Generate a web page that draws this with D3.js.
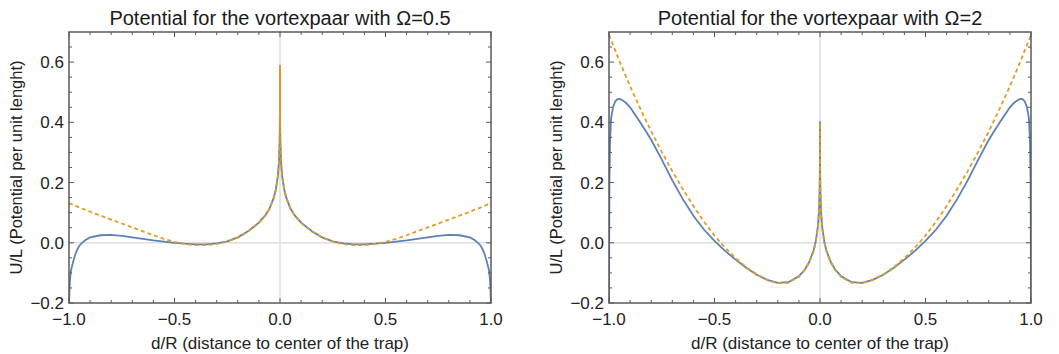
<!DOCTYPE html>
<html>
<head>
<meta charset="utf-8">
<script src="https://cdn.jsdelivr.net/npm/d3@7"></script>
<style>
  body { margin: 0; background: #fff; }
  svg { display: block; }
  text { font-family: "Liberation Sans", Arial, sans-serif; }
</style>
</head>
<body>
<div id="chart"></div>
<script>
// sampled positions d/R (shared by every curve)
const xGrid = [
  -1, -0.998, -0.995, -0.99, -0.98, -0.97, -0.96, -0.95, -0.94, -0.92, -0.9, -0.85, -0.8, -0.75,
  -0.7, -0.65, -0.6, -0.55, -0.5, -0.45, -0.4, -0.35, -0.3, -0.25, -0.2, -0.15, -0.1, -0.07,
  -0.05, -0.03, -0.02, -0.01, -0.005, -0.002, -0.001, -0.0003, -0.0001, -0.00003,
  0.00003, 0.0001, 0.0003, 0.001, 0.002, 0.005, 0.01, 0.02, 0.03, 0.05,
  0.07, 0.1, 0.15, 0.2, 0.25, 0.3, 0.35, 0.4, 0.45, 0.5, 0.55, 0.6, 0.65,
  0.7, 0.75, 0.8, 0.85, 0.9, 0.92, 0.94, 0.95, 0.96, 0.97, 0.98, 0.99, 0.995, 0.998, 1
];

// Omega = 0.5
const blueA = [
  -0.22, -0.16, -0.12, -0.09, -0.062, -0.038, -0.021, -0.009, -0.001, 0.01, 0.018, 0.025, 0.026, 0.023,
  0.018, 0.013, 0.008, 0.004, 0.0, -0.003, -0.005, -0.005, -0.002, 0.005, 0.018, 0.039, 0.067, 0.091,
  0.113, 0.149, 0.176, 0.223, 0.269, 0.331, 0.377, 0.456, 0.53, 0.587,
  0.587, 0.53, 0.456, 0.377, 0.331, 0.269, 0.223, 0.176, 0.149, 0.113,
  0.091, 0.067, 0.039, 0.018, 0.005, -0.002, -0.005, -0.005, -0.003, 0.0, 0.004, 0.008, 0.013,
  0.018, 0.023, 0.026, 0.025, 0.018, 0.01, -0.001, -0.009, -0.021, -0.038, -0.062, -0.09, -0.12, -0.16, -0.22
];
const orangeA = [
  0.132, 0.131, 0.130, 0.129, 0.126, 0.123, 0.120, 0.117, 0.114, 0.109, 0.103, 0.090, 0.077, 0.064,
  0.051, 0.038, 0.025, 0.013, 0.003, -0.004, -0.008, -0.008, -0.004, 0.004, 0.017, 0.038, 0.066, 0.09,
  0.112, 0.148, 0.175, 0.222, 0.268, 0.33, 0.376, 0.455, 0.528, 0.585,
  0.585, 0.528, 0.455, 0.376, 0.33, 0.268, 0.222, 0.175, 0.148, 0.112,
  0.09, 0.066, 0.038, 0.017, 0.004, -0.004, -0.008, -0.008, -0.004, 0.003, 0.013, 0.025, 0.038,
  0.051, 0.064, 0.077, 0.090, 0.103, 0.109, 0.114, 0.117, 0.120, 0.123, 0.126, 0.129, 0.130, 0.131, 0.132
];

// Omega = 2
const blueB = [
  -0.22, 0.2, 0.34, 0.415, 0.453, 0.47, 0.477, 0.478, 0.475, 0.465, 0.45, 0.398, 0.342, 0.276,
  0.207, 0.145, 0.09, 0.044, 0.006, -0.027, -0.056, -0.083, -0.106, -0.123, -0.133, -0.131, -0.111, -0.087,
  -0.062, -0.025, 0.005, 0.054, 0.102, 0.167, 0.216, 0.3, 0.37, 0.4,
  0.4, 0.37, 0.3, 0.216, 0.167, 0.102, 0.054, 0.005, -0.025, -0.062,
  -0.087, -0.111, -0.131, -0.133, -0.123, -0.106, -0.083, -0.056, -0.027, 0.006, 0.044, 0.09, 0.145,
  0.207, 0.276, 0.342, 0.398, 0.45, 0.465, 0.475, 0.478, 0.477, 0.47, 0.453, 0.415, 0.34, 0.2, -0.22
];
const orangeB = [
  0.69, 0.686, 0.681, 0.672, 0.655, 0.638, 0.62, 0.603, 0.586, 0.553, 0.52, 0.443, 0.37, 0.302,
  0.238, 0.178, 0.122, 0.07, 0.024, -0.016, -0.051, -0.081, -0.105, -0.123, -0.134, -0.133, -0.113, -0.089,
  -0.064, -0.027, 0.003, 0.052, 0.1, 0.165, 0.214, 0.298, 0.368, 0.398,
  0.398, 0.368, 0.298, 0.214, 0.165, 0.1, 0.052, 0.003, -0.027, -0.064,
  -0.089, -0.113, -0.133, -0.134, -0.123, -0.105, -0.081, -0.051, -0.016, 0.024, 0.07, 0.122, 0.178,
  0.238, 0.302, 0.37, 0.443, 0.52, 0.553, 0.586, 0.603, 0.62, 0.638, 0.655, 0.672, 0.681, 0.686, 0.69
];

// ticks
const xMajor = [-1, -0.5, 0, 0.5, 1];
const xTickLabels = ["\u22121.0", "\u22120.5", "0.0", "0.5", "1.0"];
const xMinor = [-0.9, -0.8, -0.7, -0.6, -0.4, -0.3, -0.2, -0.1, 0.1, 0.2, 0.3, 0.4, 0.6, 0.7, 0.8, 0.9];
const yMajor = [-0.2, 0, 0.2, 0.4, 0.6];
const yTickLabels = ["\u22120.2", "0.0", "0.2", "0.4", "0.6"];
const yMinor = [-0.15, -0.1, -0.05, 0.05, 0.1, 0.15, 0.25, 0.3, 0.35, 0.45, 0.5, 0.55, 0.65];

const titles = ["Potential for the vortexpaar with \u03A9=0.5", "Potential for the vortexpaar with \u03A9=2"];
const xTitle = "d/R (distance to center of the trap)";
const yTitle = "U/L (Potential per unit lenght)";

const W = 1059, H = 354;
const svg = d3.select("#chart").append("svg")
    .attr("width", W)
    .attr("height", H);

const panels = [
  { left: 69, blue: blueA, orange: orangeA, title: titles[0] },
  { left: 609, blue: blueB, orange: orangeB, title: titles[1] }
];
const pw = 422, plotTop = 32, plotBottom = 303;

panels.forEach(function(p, i) {
  const x = d3.scaleLinear().domain([-1, 1]).range([p.left, p.left + pw]);
  const y = d3.scaleLinear().domain([-0.2, 0.7]).range([plotBottom, plotTop]);
  const g = svg.append("g");

  g.append("clipPath").attr("id", "clip" + i)
    .append("rect")
    .attr("x", p.left).attr("y", plotTop)
    .attr("width", pw).attr("height", plotBottom - plotTop);

  // axes through the origin
  g.append("line")
    .attr("x1", x(-1)).attr("x2", x(1))
    .attr("y1", y(0)).attr("y2", y(0))
    .attr("stroke", "#dedede").attr("stroke-width", 1.5);
  g.append("line")
    .attr("x1", x(0)).attr("x2", x(0))
    .attr("y1", y(-0.2)).attr("y2", y(0.7))
    .attr("stroke", "#dedede").attr("stroke-width", 1.5);

  const line = d3.line()
    .x(function(d) { return x(d[0]); })
    .y(function(d) { return y(d[1]); });

  const curves = g.append("g").attr("clip-path", "url(#clip" + i + ")");
  curves.append("path")
    .datum(xGrid.map(function(v, k) { return [v, p.blue[k]]; }))
    .attr("d", line)
    .attr("fill", "none")
    .attr("stroke", "#5E81B5")
    .attr("stroke-width", 1.8);
  curves.append("path")
    .datum(xGrid.map(function(v, k) { return [v, p.orange[k]]; }))
    .attr("d", line)
    .attr("fill", "none")
    .attr("stroke", "#E19C24")
    .attr("stroke-width", 1.8)
    .attr("stroke-dasharray", "4,3");

  // frame
  g.append("rect")
    .attr("x", p.left).attr("y", plotTop)
    .attr("width", pw).attr("height", plotBottom - plotTop)
    .attr("fill", "none")
    .attr("stroke", "#5a5a5a")
    .attr("stroke-width", 1.5);

  const tk = g.append("g").attr("stroke", "#5a5a5a").attr("stroke-width", 1);
  function xt(vals, len) {
    vals.forEach(function(v) {
      tk.append("line").attr("x1", x(v)).attr("x2", x(v)).attr("y1", plotBottom).attr("y2", plotBottom - len);
      tk.append("line").attr("x1", x(v)).attr("x2", x(v)).attr("y1", plotTop).attr("y2", plotTop + len);
    });
  }
  function yt(vals, len) {
    vals.forEach(function(v) {
      tk.append("line").attr("x1", p.left).attr("x2", p.left + len).attr("y1", y(v)).attr("y2", y(v));
      tk.append("line").attr("x1", p.left + pw).attr("x2", p.left + pw - len).attr("y1", y(v)).attr("y2", y(v));
    });
  }
  xt(xMajor, 5); xt(xMinor, 3);
  yt(yMajor, 5); yt(yMinor, 3);

  // tick labels
  g.selectAll(".xl").data(xMajor).enter().append("text")
    .attr("x", function(d) { return x(d); })
    .attr("y", 325)
    .attr("text-anchor", "middle")
    .style("font-size", "17px")
    .attr("fill", "#222")
    .text(function(d, k) { return xTickLabels[k]; });
  g.selectAll(".yl").data(yMajor).enter().append("text")
    .attr("x", p.left - 5)
    .attr("y", function(d) { return y(d) + 6; })
    .attr("text-anchor", "end")
    .style("font-size", "17px")
    .attr("fill", "#222")
    .text(function(d, k) { return yTickLabels[k]; });

  // titles
  g.append("text")
    .attr("x", p.left + pw / 2).attr("y", 25)
    .attr("text-anchor", "middle")
    .style("font-size", "20px")
    .attr("fill", "#1a1a1a")
    .text(p.title);
  g.append("text")
    .attr("x", p.left + pw / 2).attr("y", 349)
    .attr("text-anchor", "middle")
    .style("font-size", "17px")
    .attr("fill", "#222")
    .text(xTitle);
  g.append("text")
    .attr("transform", "translate(" + (p.left - 47) + "," + ((plotTop + plotBottom) / 2) + ") rotate(-90)")
    .attr("text-anchor", "middle")
    .style("font-size", "16.5px")
    .attr("fill", "#222")
    .text(yTitle);
});
</script>
</body>
</html>
